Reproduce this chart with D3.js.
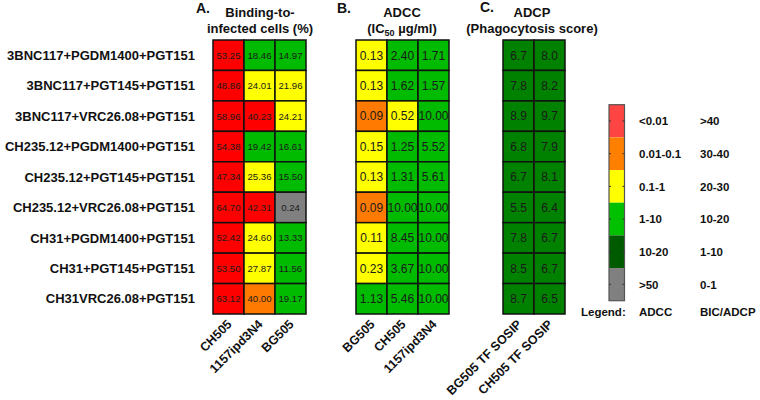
<!doctype html>
<html lang="en">

<head>
  <meta charset="UTF-8">
  <title>Binding, ADCC and ADCP heatmaps</title>
  <script src="https://cdn.jsdelivr.net/npm/d3@7"></script>
  <style>
    body {
      margin: 0;
      background: #fff;
    }

    svg text {
      font-family: "Liberation Sans", Arial, sans-serif;
    }

    .rowlab,
    .collab,
    .title,
    .leg {
      font-weight: bold;
      fill: #111;
    }

    rect.cell {
      stroke: #111;
      stroke-width: 1.5px;
    }
  </style>
</head>

<body>
</body>
<script>
  // rows (antibody combinations)
  var rowLabels = [
    "3BNC117+PGDM1400+PGT151",
    "3BNC117+PGT145+PGT151",
    "3BNC117+VRC26.08+PGT151",
    "CH235.12+PGDM1400+PGT151",
    "CH235.12+PGT145+PGT151",
    "CH235.12+VRC26.08+PGT151",
    "CH31+PGDM1400+PGT151",
    "CH31+PGT145+PGT151",
    "CH31VRC26.08+PGT151"
  ];

  // A. binding-to-infected cells (%)
  var bindingCols = ["CH505", "1157ipd3N4", "BG505"];
  var bindingValues = [
    [53.25, 18.46, 14.97],
    [48.86, 24.01, 21.96],
    [58.96, 40.23, 24.21],
    [54.38, 19.42, 16.61],
    [47.34, 25.36, 15.50],
    [64.70, 42.31, 0.24],
    [52.42, 24.60, 13.33],
    [53.50, 27.87, 11.56],
    [63.12, 40.00, 19.17]
  ];

  // B. ADCC IC50 (ug/ml)
  var adccCols = ["BG505", "CH505", "1157ipd3N4"];
  var adccValues = [
    [0.13, 2.40, 1.71],
    [0.13, 1.62, 1.57],
    [0.09, 0.52, 10.00],
    [0.15, 1.25, 5.52],
    [0.13, 1.31, 5.61],
    [0.09, 10.00, 10.00],
    [0.11, 8.45, 10.00],
    [0.23, 3.67, 10.00],
    [1.13, 5.46, 10.00]
  ];

  // C. ADCP phagocytosis score
  var adcpCols = ["BG505 TF SOSIP", "CH505 TF SOSIP"];
  var adcpValues = [
    [6.7, 8.0],
    [7.8, 8.2],
    [8.9, 9.7],
    [6.8, 7.9],
    [6.7, 8.1],
    [5.5, 6.4],
    [7.8, 6.7],
    [8.5, 6.7],
    [8.7, 6.5]
  ];

  // legend
  var legendAdcc = ["<0.01", "0.01-0.1", "0.1-1", "1-10", "10-20", ">50"];
  var legendBic = [">40", "30-40", "20-30", "10-20", "1-10", "0-1"];
  var legendColors = ["#ff4444", "#ff8000", "#ffff00", "#00c000", "#005a00", "#808080"];

  // cell colours
  var red = "#ff0000", orange = "#ff7a00", yellow = "#ffff00",
    green = "#00bb00", dkgreen = "#008200", grey = "#808080";

  var bicColor = d3.scaleThreshold()
    .domain([1, 10, 20, 30, 40.005])
    .range([grey, dkgreen, green, yellow, orange, red]);

  var adccColor = d3.scaleThreshold()
    .domain([0.01, 0.1, 1, 10.005, 20])
    .range([red, orange, yellow, green, dkgreen, grey]);

  var width = 760,
    height = 400;

  var svg = d3.select("body").append("svg")
    .attr("width", width)
    .attr("height", height);

  var yScale = d3.scaleBand()
    .domain(rowLabels)
    .range([40, 314]);

  // row labels
  svg.append("g")
    .selectAll("text")
    .data(rowLabels)
    .enter().append("text")
    .attr("class", "rowlab")
    .attr("x", 195)
    .attr("y", function(d) {
      return yScale(d) + yScale.bandwidth() / 2;
    })
    .attr("dy", "0.36em")
    .attr("text-anchor", "end")
    .attr("font-size", "13px")
    .text(function(d) {
      return d;
    });

  function panel(cols, values, x0, x1, color, fmt, fontSize) {
    var xScale = d3.scaleBand()
      .domain(cols)
      .range([x0, x1]);

    var cells = [];
    values.forEach(function(row, i) {
      row.forEach(function(v, j) {
        cells.push({
          row: rowLabels[i],
          col: cols[j],
          value: v
        });
      });
    });

    var g = svg.append("g");

    g.selectAll("rect")
      .data(cells)
      .enter().append("rect")
      .attr("class", "cell")
      .attr("x", function(d) {
        return xScale(d.col);
      })
      .attr("y", function(d) {
        return yScale(d.row);
      })
      .attr("width", xScale.bandwidth())
      .attr("height", yScale.bandwidth())
      .style("fill", function(d) {
        return color(d.value);
      });

    g.selectAll("text.val")
      .data(cells)
      .enter().append("text")
      .attr("class", "val")
      .attr("x", function(d) {
        return xScale(d.col) + xScale.bandwidth() / 2;
      })
      .attr("y", function(d) {
        return yScale(d.row) + yScale.bandwidth() / 2;
      })
      .attr("dy", "0.36em")
      .attr("text-anchor", "middle")
      .attr("font-size", fontSize)
      .attr("fill", "#1a1a1a")
      .text(function(d) {
        return d3.format(fmt)(d.value);
      });

    // rotated column labels
    g.selectAll("text.collab")
      .data(cols)
      .enter().append("text")
      .attr("class", "collab")
      .attr("font-size", "12.5px")
      .attr("text-anchor", "end")
      .attr("transform", function(d) {
        return "translate(" + (xScale(d) + xScale.bandwidth() / 2 + 4) + ",325) rotate(-45)";
      })
      .text(function(d) {
        return d;
      });

    return xScale;
  }

  panel(bindingCols, bindingValues, 213, 306, bicColor, ".2f", "9.6px");
  panel(adccCols, adccValues, 356, 449, adccColor, ".2f", "12px");
  panel(adcpCols, adcpValues, 503, 565, bicColor, ".1f", "12px");

  // titles
  function title(x, y, txt) {
    return svg.append("text")
      .attr("class", "title")
      .attr("x", x)
      .attr("y", y)
      .attr("text-anchor", "middle")
      .attr("font-size", "13px")
      .text(txt);
  }

  title(203, 13, "A.").attr("font-size", "14px");
  title(260, 17, "Binding-to-");
  title(260, 33, "infected cells (%)");

  title(344, 13, "B.").attr("font-size", "14px");
  title(402, 17, "ADCC");
  var ic = title(402, 33, "(IC");
  ic.append("tspan").attr("font-size", "9px").attr("dy", 3).text("50");
  ic.append("tspan").attr("dy", -3).text(" \u00b5g/ml)");

  title(487, 12, "C.").attr("font-size", "14px");
  title(532, 17, "ADCP");
  title(532, 33, "(Phagocytosis score)");

  // legend
  var legY = d3.scaleBand()
    .domain(d3.range(legendColors.length))
    .range([104.7, 300.7]);

  var leg = svg.append("g");

  leg.selectAll("rect")
    .data(legendColors)
    .enter().append("rect")
    .attr("x", 609)
    .attr("y", function(d, i) {
      return legY(i);
    })
    .attr("width", 15.5)
    .attr("height", legY.bandwidth())
    .style("fill", function(d) {
      return d;
    });

  leg.append("rect")
    .attr("x", 609)
    .attr("y", 104.7)
    .attr("width", 15.5)
    .attr("height", 196)
    .style("fill", "none")
    .style("stroke", "#555")
    .style("stroke-width", 1.2);

  [609, 622.5].forEach(function(x) {
    leg.selectAll(null)
      .data(legendColors)
      .enter().append("line")
      .attr("x1", x)
      .attr("x2", x + 2)
      .attr("y1", function(d, i) {
        return legY(i) + legY.bandwidth() / 2;
      })
      .attr("y2", function(d, i) {
        return legY(i) + legY.bandwidth() / 2;
      })
      .style("stroke", "#333")
      .style("stroke-width", 1);
  });

  leg.selectAll("text.a")
    .data(legendAdcc)
    .enter().append("text")
    .attr("class", "leg")
    .attr("x", 639)
    .attr("y", function(d, i) {
      return legY(i) + legY.bandwidth() / 2;
    })
    .attr("dy", "0.36em")
    .attr("font-size", "11.5px")
    .text(function(d) {
      return d;
    });

  leg.selectAll("text.b")
    .data(legendBic)
    .enter().append("text")
    .attr("class", "leg")
    .attr("x", 700)
    .attr("y", function(d, i) {
      return legY(i) + legY.bandwidth() / 2;
    })
    .attr("dy", "0.36em")
    .attr("font-size", "11.5px")
    .text(function(d) {
      return d;
    });

  [
    [581, "Legend:"],
    [639, "ADCC"],
    [700, "BIC/ADCP"]
  ].forEach(function(p) {
    leg.append("text")
      .attr("class", "leg")
      .attr("x", p[0])
      .attr("y", 316)
      .attr("font-size", "11.5px")
      .text(p[1]);
  });
</script>

</html>
